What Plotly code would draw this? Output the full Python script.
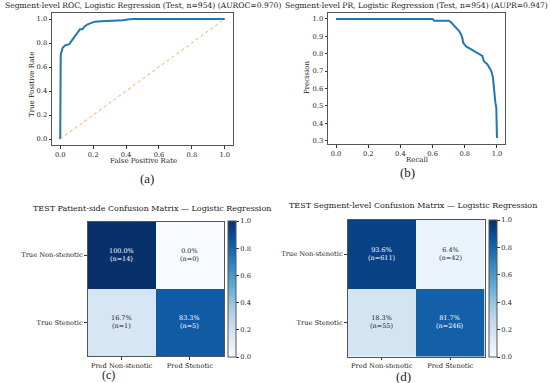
import plotly.graph_objects as go

# ---------------- data ----------------
roc_fpr = [0, 0, 0.003, 0.006, 0.015, 0.03, 0.055, 0.07, 0.09, 0.105, 0.12, 0.135, 0.15, 0.167, 0.19, 0.21, 0.25, 0.32, 0.38, 0.42, 0.45, 1.0]
roc_tpr = [0, 0.60, 0.70, 0.72, 0.76, 0.78, 0.79, 0.82, 0.86, 0.89, 0.915, 0.915, 0.94, 0.956, 0.97, 0.978, 0.982, 0.983, 0.99, 0.997, 1.0, 1.0]
chance = [0, 1]

pr_recall = [0, 0.60, 0.61, 0.70, 0.71, 0.725, 0.74, 0.755, 0.765, 0.776, 0.785, 0.79, 0.80, 0.81, 0.83, 0.848,
             0.865, 0.879, 0.895, 0.909, 0.915, 0.92, 0.94, 0.955, 0.965, 0.975, 0.98, 0.983, 0.99, 0.996, 1.0]
pr_precision = [1.0, 1.0, 0.99, 0.99, 0.985, 0.97, 0.955, 0.94, 0.93, 0.912, 0.89, 0.864, 0.85, 0.84, 0.83, 0.82,
                0.81, 0.807, 0.795, 0.788, 0.77, 0.755, 0.74, 0.72, 0.70, 0.663, 0.60, 0.558, 0.52, 0.49, 0.315]

pred_labels = ["Pred Non-stenotic", "Pred Stenotic"]
true_labels = ["True Non-stenotic", "True Stenotic"]

patient_counts = [[14, 0], [1, 5]]
patient_frac = [[1.000, 0.000], [0.167, 0.833]]
segment_counts = [[611, 42], [55, 246]]
segment_frac = [[0.936, 0.064], [0.183, 0.817]]

roc_title = "Segment-level ROC, Logistic Regression (Test, n=954) (AUROC=0.970)"
pr_title = "Segment-level PR, Logistic Regression (Test, n=954) (AUPR=0.947)"
cm_patient_title = "TEST Patient-side Confusion Matrix \u2014 Logistic Regression"
cm_segment_title = "TEST Segment-level Confusion Matrix \u2014 Logistic Regression"
panel_labels = ["(a)", "(b)", "(c)", "(d)"]

# ---------------- style ----------------
W, H = 550, 383
SERIF = "DejaVu Serif"
TXT = "#222222"
BLUES = [[0.0, "#f7fbff"], [0.125, "#deebf7"], [0.25, "#c6dbef"], [0.375, "#9ecae1"],
         [0.5, "#6baed6"], [0.625, "#4292c6"], [0.75, "#2171b5"], [0.875, "#08519c"], [1.0, "#08306b"]]
TICK_SIZE = 6.7


def px_x(p):
    return p / W


def px_y(p):
    return 1 - p / H


fig = go.Figure()

fig.add_trace(go.Scatter(x=roc_fpr, y=roc_tpr, mode="lines", line=dict(color="#1f77b4", width=2),
                         xaxis="x", yaxis="y", showlegend=False))
fig.add_trace(go.Scatter(x=chance, y=chance, mode="lines", line=dict(color="#ff7f0e", width=1, dash="dot"),
                         opacity=0.7, xaxis="x", yaxis="y", showlegend=False))
fig.add_trace(go.Scatter(x=pr_recall, y=pr_precision, mode="lines", line=dict(color="#1f77b4", width=2),
                         xaxis="x2", yaxis="y2", showlegend=False))

cb_common = dict(thickness=8, thicknessmode="pixels", lenmode="fraction", yanchor="bottom", xanchor="left",
                 tickvals=[0, 0.2, 0.4, 0.6, 0.8, 1.0], ticktext=["0.0", "0.2", "0.4", "0.6", "0.8", "1.0"],
                 ticks="outside", ticklen=3, tickwidth=1, tickcolor="#333", outlinewidth=1, outlinecolor="#555",
                 tickfont=dict(family=SERIF, size=TICK_SIZE, color=TXT), xpad=0, ypad=0)

fig.add_trace(go.Heatmap(z=patient_frac, x=pred_labels, y=true_labels, colorscale=BLUES, zmin=0, zmax=1,
                         xaxis="x3", yaxis="y3", hoverinfo="skip",
                         colorbar=dict(x=px_x(228), y=px_y(357), len=136 / H, **cb_common)))
fig.add_trace(go.Heatmap(z=segment_frac, x=pred_labels, y=true_labels, colorscale=BLUES, zmin=0, zmax=1,
                         xaxis="x4", yaxis="y4", hoverinfo="skip",
                         colorbar=dict(x=px_x(489), y=px_y(357), len=137 / H, **cb_common)))

tickfont = dict(family=SERIF, size=TICK_SIZE, color=TXT)
frame = dict(showline=True, mirror=True, linecolor="#555", linewidth=1, showgrid=False, zeroline=False,
             ticks="outside", ticklen=2.5, tickwidth=1, tickcolor="#333", tickfont=tickfont)
ticks01 = dict(tickvals=[0, 0.2, 0.4, 0.6, 0.8, 1.0], ticktext=["0.0", "0.2", "0.4", "0.6", "0.8", "1.0"])

fig.update_layout(
    width=W, height=H, margin=dict(l=0, r=0, t=0, b=0),
    paper_bgcolor="white", plot_bgcolor="white", showlegend=False,
    xaxis=dict(domain=[px_x(52), px_x(233)], range=[-0.05, 1.05], anchor="y", **frame, **ticks01),
    yaxis=dict(domain=[px_y(145), px_y(13)], range=[-0.05, 1.05], anchor="x", **frame, **ticks01),
    xaxis2=dict(domain=[px_x(328), px_x(505)], range=[-0.05, 1.05], anchor="y2", **frame, **ticks01),
    yaxis2=dict(domain=[px_y(144), px_y(13)], range=[0.281, 1.034], anchor="x2",
                tickvals=[0.3, 0.4, 0.5, 0.6, 0.7, 0.8, 0.9, 1.0],
                ticktext=["0.3", "0.4", "0.5", "0.6", "0.7", "0.8", "0.9", "1.0"], **frame),
    xaxis3=dict(domain=[px_x(87.5), px_x(224)], range=[-0.5, 1.5], anchor="y3", **frame),
    yaxis3=dict(domain=[px_y(356), px_y(221.5)], range=[1.5, -0.5], anchor="x3", **frame),
    xaxis4=dict(domain=[px_x(347.5), px_x(484.5)], range=[-0.5, 1.5], anchor="y4", **frame),
    yaxis4=dict(domain=[px_y(356.5), px_y(220)], range=[1.5, -0.5], anchor="x4", **frame),
)

ann = []


def txt(x, y, s, size=8, family=SERIF, color=TXT, angle=0, xanchor="center"):
    ann.append(dict(x=px_x(x), y=px_y(y), xref="paper", yref="paper", text=s, showarrow=False,
                    font=dict(family=family, size=size, color=color), textangle=angle,
                    xanchor=xanchor, yanchor="middle"))


txt(142.5, 6, roc_title, size=7.6)
txt(416.5, 6, pr_title, size=7.6)
txt(152, 208, cm_patient_title, size=8)
txt(413, 205, cm_segment_title, size=8)

txt(143, 161, "False Positive Rate", size=7)
txt(32, 85, "True Positive Rate", size=7, angle=-90)
txt(417, 160, "Recall", size=7)
txt(307, 78, "Precision", size=7, angle=-90)

for lab, (x, y), sz in zip(panel_labels, [(147, 178), (407, 173), (108, 375), (403, 376)], [13, 13, 12, 13]):
    txt(x, y, lab, size=sz, family="Liberation Serif")

for axn, counts, frac in [("3", patient_counts, patient_frac), ("4", segment_counts, segment_frac)]:
    for i in range(2):
        for j in range(2):
            col = "white" if frac[i][j] > 0.5 else TXT
            ann.append(dict(x=pred_labels[j], y=true_labels[i], xref="x" + axn, yref="y" + axn,
                            text=f"{frac[i][j] * 100:.1f}%<br>(n={counts[i][j]})", showarrow=False,
                            font=dict(family=SERIF, size=6.5, color=col), align="center"))

fig.update_layout(annotations=ann)
fig.write_html("out.html", config={"displayModeBar": False},
               post_script="document.body.style.margin='0';document.body.style.overflow='hidden';")
